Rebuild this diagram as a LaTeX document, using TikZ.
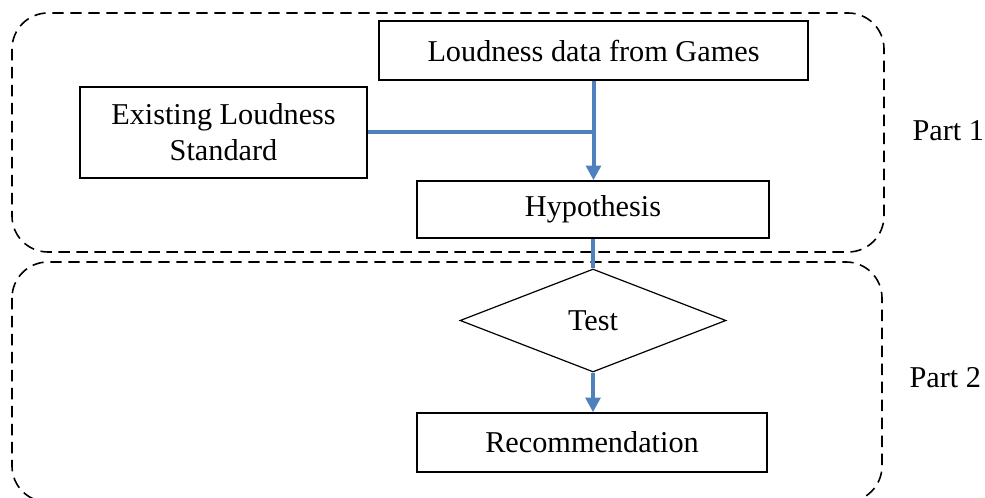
\documentclass[tikz,border=0pt]{standalone}
\usepackage{fontspec}
\setmainfont{Liberation Serif}
\usetikzlibrary{shapes.geometric,arrows.meta}
\definecolor{flowblue}{RGB}{79,129,189}
\tikzset{every picture/.style={line width=0.75pt}}
\tikzset{
  stepbox/.style={draw, line width=1.1pt, inner sep=0.75pt, align=center, font=\fontsize{22.7}{27}\selectfont},
  testbox/.style={draw, diamond, line width=0.9pt, inner sep=0pt, aspect=2.6, font=\fontsize{22.7}{27}\selectfont},
  partbox/.style={draw, dash pattern=on 8.5pt off 5pt, line width=1.2pt, rounded corners=27pt},
  flow/.style={draw=flowblue, line width=3pt},
  flowarrow/.style={flow, -{Triangle[width=11pt,length=11pt]}},
  partlabel/.style={anchor=west, inner sep=0.75pt, font=\fontsize{22.7}{27}\selectfont}
}
\begin{document}
\begin{tikzpicture}[x=0.75pt,y=0.75pt,yscale=-1,xscale=1]
\useasboundingbox (0,0) rectangle (985,498);

%Dashed frames
\draw[partbox] (12,13) rectangle (884,252);
\draw[partbox] (12,262) rectangle (882,502);

%Boxes
\node[stepbox, minimum width=321.75pt, minimum height=44.25pt] (loud) at (593.5,50.5) {Loudness data from Games};
\node[stepbox, minimum width=215.25pt, minimum height=68.25pt] (exist) at (223.5,132.5) {Existing Loudness\\Standard};
\node[stepbox, minimum width=264pt, minimum height=42.75pt] (hypo) at (593,209.5) {Hypothesis};
\node[testbox, minimum width=199.5pt, minimum height=77.25pt] (test) at (593,320.5) {Test};
\node[stepbox, minimum width=262.5pt, minimum height=44.25pt] (recom) at (592,442.5) {Recommendation};

%Connectors
\draw[flowarrow] (loud.south) -- (loud.south |- hypo.north);
\draw[flow] (exist.east) -- (exist.east -| loud.south);
\draw[flow] (hypo.south) -- (test.north);
\draw[flowarrow] (test.south) -- (test.south |- recom.north);

%Labels
\node[partlabel] (part1) at (911,131) {Part 1};
\node[partlabel] (part2) at (908,378) {Part 2};

\end{tikzpicture}
\end{document}
